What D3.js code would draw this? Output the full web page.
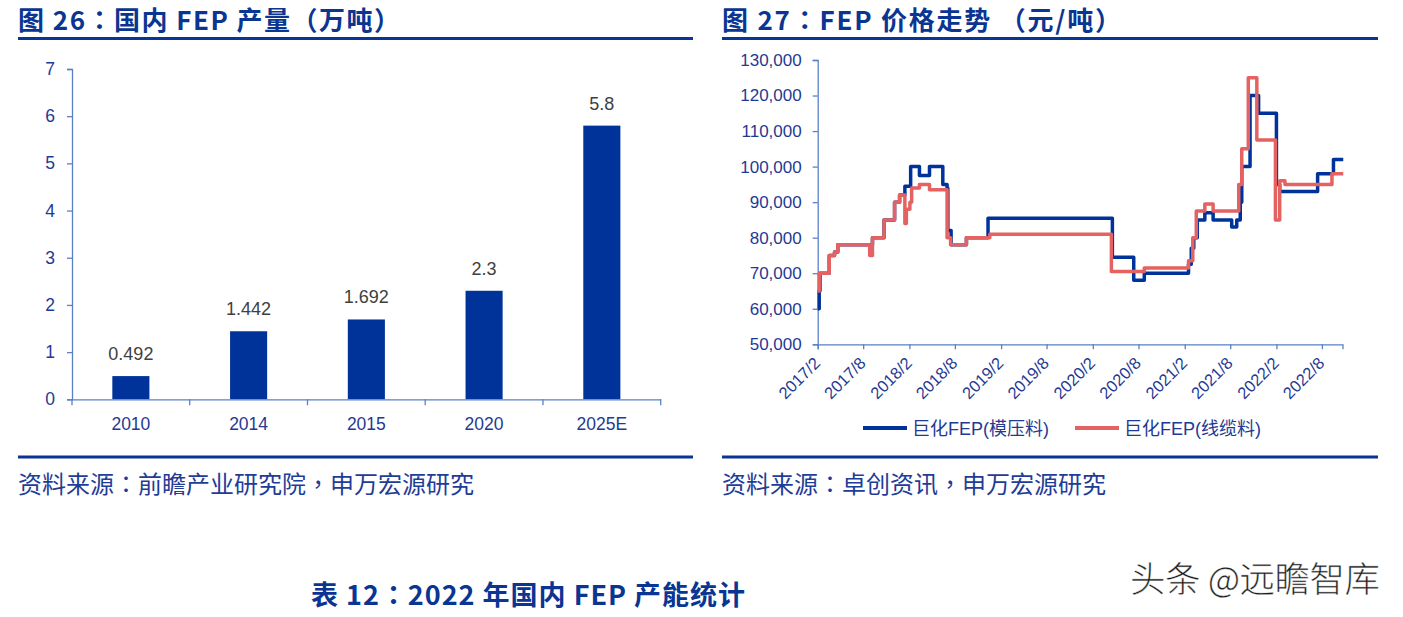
<!DOCTYPE html>
<html><head><meta charset="utf-8">
<script src="https://cdn.jsdelivr.net/npm/d3@7"></script>
<style>
html,body{margin:0;padding:0;background:#fff;}
svg{display:block;}
</style></head>
<body>
<svg id="c" width="1403" height="617"></svg>
<script>
// ---------- data ----------
const categories = ["2010", "2014", "2015", "2020", "2025E"];
const production = [0.492, 1.442, 1.692, 2.3, 5.8];
const productionLabels = ["0.492", "1.442", "1.692", "2.3", "5.8"];
const productionTicks = [0, 1, 2, 3, 4, 5, 6, 7];

const priceXTickLabels = ["2017/2","2017/8","2018/2","2018/8","2019/2","2019/8","2020/2","2020/8","2021/2","2021/8","2022/2","2022/8"];
const priceYTicks = [50000,60000,70000,80000,90000,100000,110000,120000,130000];
const seriesNames = ["巨化FEP(模压料)", "巨化FEP(线缆料)"];

const moldDates = ["2017-02-01","2017-02-07","2017-02-10","2017-03-19","2017-04-09","2017-04-22","2017-09-07","2017-10-23","2017-12-04","2017-12-24","2018-01-14","2018-02-06","2018-03-13","2018-04-22","2018-06-14","2018-07-01","2018-07-04","2018-07-17","2018-09-16","2018-12-11","2020-04-19","2020-07-13","2020-08-24","2021-02-16","2021-02-27","2021-03-09","2021-03-23","2021-04-22","2021-05-25","2021-08-07","2021-08-27","2021-09-10","2021-09-16","2021-10-19","2021-11-22","2022-02-01","2022-02-14","2022-07-15","2022-09-16","2022-10-25"];
const moldValues = [60000,65000,70000,75000,76000,78000,80000,85000,90000,92000,94500,100000,97500,100000,95000,94000,82000,78000,80000,85500,74500,68000,70000,72500,77000,80000,85000,87000,85000,83000,85000,90000,100000,120000,115000,95000,93000,98000,102000,102000];

const cableDates = ["2017-02-01","2017-02-07","2017-03-19","2017-04-09","2017-04-22","2017-08-27","2017-09-07","2017-10-23","2017-12-04","2017-12-24","2018-01-14","2018-01-20","2018-02-03","2018-02-10","2018-03-13","2018-04-22","2018-07-01","2018-07-15","2018-09-16","2018-12-18","2020-04-15","2020-08-24","2021-02-16","2021-03-05","2021-03-19","2021-04-22","2021-05-25","2021-09-04","2021-09-16","2021-10-12","2021-11-15","2022-01-28","2022-02-14","2022-03-07","2022-09-10","2022-10-25"];
const cableValues = [65000,70000,75000,76000,78000,75000,80000,85000,90000,92000,84000,88000,90000,94000,95000,93500,80000,78000,80000,81000,70500,71500,73500,80000,87500,89500,87500,95000,105000,125000,107500,85000,96000,95000,98000,98000];

// ---------- styles ----------
const TITLE_BLUE = "#0a3592";
const AXIS_COL = "#5a80c6";
const LABEL_COL = "#1f3a93";
const BAR_COL = "#003399";
const RED = "#e46262";
const CJK = "'Noto Sans CJK TC', 'Noto Sans CJK SC', sans-serif";
const LAT = "'Liberation Sans', Arial, sans-serif";
const MIX = "'Liberation Sans', 'Noto Sans CJK SC', sans-serif";

const svg = d3.select("#c");

// ---------- headers / footers ----------
function header(x, y, txt, len, x1, x2, ly) {
  svg.append("text").attr("x", x).attr("y", y).text(txt)
    .attr("font-family", CJK).attr("font-weight", 700).attr("font-size", 26)
    .attr("textLength", len).attr("lengthAdjust", "spacing")
    .attr("fill", TITLE_BLUE);
  svg.append("line").attr("x1", x1).attr("x2", x2).attr("y1", ly).attr("y2", ly)
    .attr("stroke", "#0a3592").attr("stroke-width", 3);
}
header(18, 30, "图 26：国内 FEP 产量（万吨）", 382, 18, 693, 38.5);
header(722, 30, "图 27：FEP 价格走势 （元/吨）", 399, 722, 1378, 38.5);

svg.append("line").attr("x1", 18).attr("x2", 693).attr("y1", 457).attr("y2", 457).attr("stroke", "#0a3592").attr("stroke-width", 3);
svg.append("line").attr("x1", 722).attr("x2", 1378).attr("y1", 457).attr("y2", 457).attr("stroke", "#0a3592").attr("stroke-width", 3);

svg.append("text").attr("x", 18).attr("y", 493).text("资料来源：前瞻产业研究院，申万宏源研究")
  .attr("font-family", CJK).attr("font-size", 24).attr("fill", "#1f3c96");
svg.append("text").attr("x", 722).attr("y", 493).text("资料来源：卓创资讯，申万宏源研究")
  .attr("font-family", CJK).attr("font-size", 24).attr("fill", "#1f3c96");

svg.append("text").attr("x", 311).attr("y", 605).text("表 12：2022 年国内 FEP 产能统计")
  .attr("font-family", CJK).attr("font-weight", 700).attr("font-size", 27)
  .attr("textLength", 434).attr("lengthAdjust", "spacing").attr("fill", TITLE_BLUE);

svg.append("text").attr("x", 1255).attr("y", 592).attr("text-anchor", "middle").text("头条 @远瞻智库")
  .attr("font-family", "'Noto Sans CJK SC', sans-serif").attr("font-weight", 300).attr("font-size", 35).attr("fill", "#1a1a1a")
  .attr("stroke", "#c8c8c8").attr("stroke-width", 0.3);

// ---------- left: bar chart ----------
const xB = d3.scaleBand().domain(categories).range([72, 660.7]).padding(0);
const yB = d3.scaleLinear().domain([0, 7]).range([399.3, 69]);
const gL = svg.append("g");

const yAxisL = d3.axisLeft(yB).tickValues(productionTicks).tickSize(5).tickPadding(12).tickFormat(d3.format("d"));
const gyL = gL.append("g").attr("transform", "translate(72,0)").call(yAxisL);
gyL.select(".domain").attr("stroke", AXIS_COL).attr("stroke-width", 1.3);
gyL.selectAll(".tick line").attr("stroke", AXIS_COL).attr("stroke-width", 1.3);
gyL.selectAll("text").attr("font-family", LAT).attr("font-size", 17.5).attr("fill", LABEL_COL);

const bw = xB.bandwidth() * 0.315;
gL.selectAll("rect.bar").data(categories).enter().append("rect")
  .attr("x", (d) => xB(d) + xB.bandwidth() / 2 - bw / 2)
  .attr("y", (d, i) => yB(production[i]))
  .attr("width", bw)
  .attr("height", (d, i) => yB(0) - yB(production[i]))
  .attr("fill", BAR_COL);

gL.selectAll("text.val").data(categories).enter().append("text")
  .attr("x", (d) => xB(d) + xB.bandwidth() / 2)
  .attr("y", (d, i) => yB(production[i]) - 16)
  .attr("text-anchor", "middle")
  .attr("font-family", LAT).attr("font-size", 18).attr("fill", "#404040")
  .text((d, i) => productionLabels[i]);

const xAxisL = d3.axisBottom(xB).tickSize(0).tickPadding(18);
const gxL = gL.append("g").attr("transform", `translate(0,${yB(0)})`).call(xAxisL);
gxL.select(".domain").attr("stroke", AXIS_COL).attr("stroke-width", 1.3);
gxL.selectAll("text").attr("font-family", LAT).attr("font-size", 17.5).attr("fill", LABEL_COL);
const bounds = categories.map((d) => xB(d)).concat([xB(categories[categories.length - 1]) + xB.bandwidth()]);
gxL.selectAll("line.bt").data(bounds).enter().append("line")
  .attr("x1", (d) => d).attr("x2", (d) => d).attr("y1", 0).attr("y2", 6)
  .attr("stroke", AXIS_COL).attr("stroke-width", 1.3);

// ---------- right: price line chart ----------
const parse = d3.timeParse("%Y-%m-%d");
const parseTick = d3.timeParse("%Y/%m");
const tickDates = priceXTickLabels.map((s) => parseTick(s));
const xT = d3.scaleTime().domain([parse("2017-02-01"), parse("2022-10-22")]).range([817.7, 1342.5]);
const yP = d3.scaleLinear().domain([50000, 130000]).range([344.3, 60]);
const gR = svg.append("g");

const yAxisR = d3.axisLeft(yP).tickValues(priceYTicks).tickSize(5).tickPadding(11).tickFormat(d3.format(","));
const gyR = gR.append("g").attr("transform", "translate(817.7,0)").call(yAxisR);
gyR.select(".domain").attr("stroke", AXIS_COL).attr("stroke-width", 1.3);
gyR.selectAll(".tick line").attr("stroke", AXIS_COL).attr("stroke-width", 1.3);
gyR.selectAll("text").attr("font-family", LAT).attr("font-size", 17).attr("fill", LABEL_COL);

const xAxisR = d3.axisBottom(xT).tickValues(tickDates).tickSize(5).tickFormat((d, i) => priceXTickLabels[i]);
const gxR = gR.append("g").attr("transform", `translate(0,${yP(50000)})`).call(xAxisR);
gxR.select(".domain").attr("stroke", AXIS_COL).attr("stroke-width", 1.3);
gxR.selectAll(".tick line").attr("stroke", AXIS_COL).attr("stroke-width", 1.3);
gxR.selectAll(".tick text")
  .attr("font-family", LAT).attr("font-size", 16.5).attr("fill", LABEL_COL)
  .attr("text-anchor", "end").attr("y", 0).attr("dy", 0)
  .attr("transform", "translate(3,20) rotate(-45)");

const line = d3.line().curve(d3.curveStepAfter).x((d) => xT(d[0])).y((d) => yP(d[1]));
const moldData = moldDates.map((d, i) => [parse(d), moldValues[i]]);
const cableData = cableDates.map((d, i) => [parse(d), cableValues[i]]);
gR.append("path").datum(moldData).attr("d", line).attr("fill", "none").attr("stroke", "#003399").attr("stroke-width", 3.5).attr("stroke-linejoin", "round");
gR.append("path").datum(cableData).attr("d", line).attr("fill", "none").attr("stroke", RED).attr("stroke-width", 3.5).attr("stroke-linejoin", "round");

// legend
const legColors = ["#003399", RED];
const legX = [863, 1075];
seriesNames.forEach((n, i) => {
  svg.append("line").attr("x1", legX[i]).attr("x2", legX[i] + 44).attr("y1", 428).attr("y2", 428)
    .attr("stroke", legColors[i]).attr("stroke-width", 4);
  svg.append("text").attr("x", legX[i] + 49).attr("y", 434.5).text(n)
    .attr("font-family", MIX).attr("font-size", 18).attr("fill", LABEL_COL);
});
</script>
</body></html>
